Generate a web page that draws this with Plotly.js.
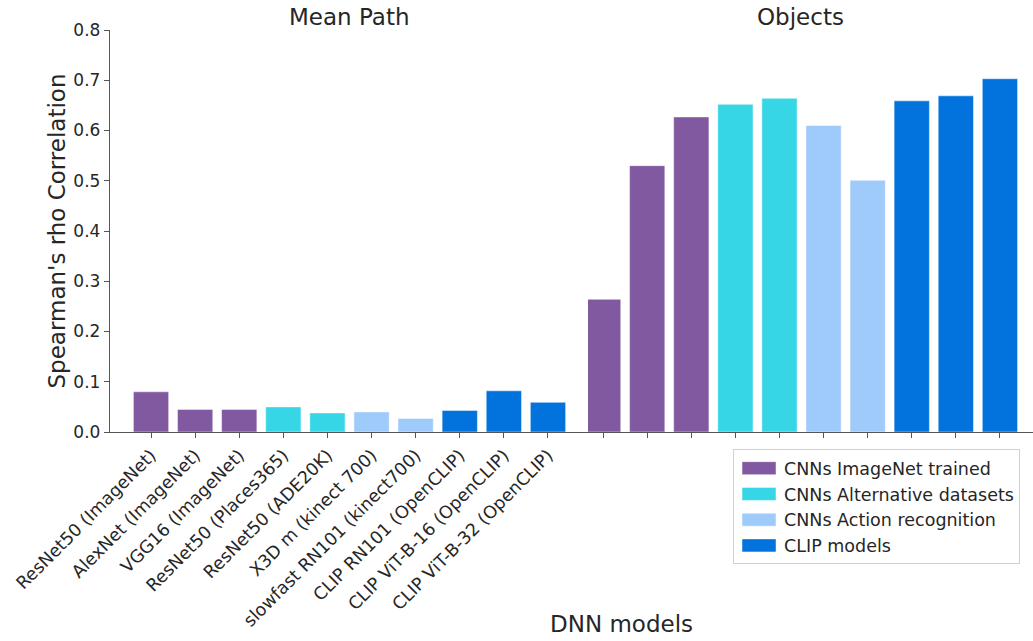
<!DOCTYPE html>
<html>
<head>
<meta charset="utf-8">
<script src="https://cdn.plot.ly/plotly-3.0.1.min.js"></script>
<style>
  html, body { margin: 0; padding: 0; background: #fff; }
  #chart { width: 1033px; height: 641px; }
</style>
</head>
<body>
<div id="chart"></div>
<script>
// DNN models compared on two measures
const models = [
  "ResNet50 (ImageNet)", "AlexNet (ImageNet)", "VGG16 (ImageNet)",
  "ResNet50 (Places365)", "ResNet50 (ADE20K)", "X3D m (kinect 700)",
  "slowfast RN101 (kinect700)", "CLIP RN101 (OpenCLIP)",
  "CLIP ViT-B-16 (OpenCLIP)", "CLIP ViT-B-32 (OpenCLIP)"
];
const modelFamily = [0, 0, 0, 1, 1, 2, 2, 3, 3, 3];
const familyNames = [
  "CNNs ImageNet trained", "CNNs Alternative datasets",
  "CNNs Action recognition", "CLIP models"
];
const familyColors = ["#8159A0", "#37D6E6", "#9FCBFA", "#0273DC"];

// Spearman's rho per model
const meanPath = [0.080, 0.045, 0.045, 0.050, 0.038, 0.040, 0.027, 0.043, 0.082, 0.059];
const objects  = [0.264, 0.530, 0.627, 0.652, 0.664, 0.610, 0.501, 0.659, 0.669, 0.703];

const panelTitles = ["Mean Path", "Objects"];
const yTicks = [0, 0.1, 0.2, 0.3, 0.4, 0.5, 0.6, 0.7, 0.8];

const font = "DejaVu Sans, sans-serif";
const textColor = "#262626";

const traces = [];
familyNames.forEach((name, f) => {
  const idx = models.map((_, i) => i).filter(i => modelFamily[i] === f);
  const common = {
    type: "bar",
    name: name,
    legendgroup: name,
    marker: { color: familyColors[f], line: { color: "rgba(255,255,255,0.6)", width: 0.8 } },
    hoverinfo: "x+y"
  };
  traces.push(Object.assign({}, common, {
    x: idx.map(i => models[i]), y: idx.map(i => meanPath[i]),
    xaxis: "x", yaxis: "y", showlegend: true
  }));
  traces.push(Object.assign({}, common, {
    x: idx.map(i => models[i]), y: idx.map(i => objects[i]),
    xaxis: "x2", yaxis: "y", showlegend: false
  }));
});

const axisLine = { showline: true, linecolor: "#555", linewidth: 1.2, ticks: "outside",
                   ticklen: 5, tickcolor: "#555", showgrid: false, zeroline: false };

const titleFont = { size: 23, family: font, color: textColor };

const layout = {
  width: 1033, height: 641,
  margin: { l: 110, r: 0, t: 30, b: 209 },
  paper_bgcolor: "#fff", plot_bgcolor: "#fff",
  font: { family: font, color: textColor },
  barmode: "overlay",
  bargap: 0.2,
  xaxis: Object.assign({}, axisLine, {
    domain: [0, 0.518], type: "category",
    categoryorder: "array", categoryarray: models,
    range: [-0.93, 9.91],
    tickangle: -45, tickfont: { size: 17.5, family: font, color: textColor },
    fixedrange: true
  }),
  xaxis2: Object.assign({}, axisLine, {
    domain: [0.518, 1], type: "category", anchor: "y",
    categoryorder: "array", categoryarray: models,
    range: [-0.34, 9.75], showticklabels: false,
    fixedrange: true
  }),
  yaxis: Object.assign({}, axisLine, {
    range: [0, 0.8], tickvals: yTicks, tickformat: ".1f",
    tickfont: { size: 17, family: font, color: textColor },
    title: { text: "Spearman's rho Correlation", font: titleFont, standoff: 1 },
    automargin: false,
    fixedrange: true
  }),
  legend: {
    x: 0.675, y: -0.043, xanchor: "left", yanchor: "top",
    bgcolor: "#fff", bordercolor: "#d0d0d0", borderwidth: 1,
    font: { size: 17.5, family: font, color: textColor },
    itemwidth: 40, tracegroupgap: 0
  },
  annotations: [
    { text: panelTitles[0], xref: "paper", yref: "paper", x: 0.26, y: 1,
      xanchor: "center", yanchor: "middle", yshift: 13,
      showarrow: false, font: titleFont },
    { text: panelTitles[1], xref: "paper", yref: "paper", x: 0.7486, y: 1,
      xanchor: "center", yanchor: "middle", yshift: 13,
      showarrow: false, font: titleFont },
    { text: "DNN models", xref: "paper", yref: "paper", x: 0.5547, y: -0.4775,
      xanchor: "center", yanchor: "middle",
      showarrow: false, font: titleFont }
  ],
  showlegend: true
};

// widen the legend swatches into flat rectangles
function widenSwatches(gd) {
  gd.querySelectorAll(".legend .legendpoints path").forEach(p => {
    p.setAttribute("d", "M-17,-6.5H17V6.5H-17Z");
  });
}

const gd = document.getElementById("chart");
Plotly.newPlot(gd, traces, layout, { displayModeBar: false, staticPlot: true })
  .then(() => {
    widenSwatches(gd);
    gd.on("plotly_afterplot", () => widenSwatches(gd));
  });
</script>
</body>
</html>
